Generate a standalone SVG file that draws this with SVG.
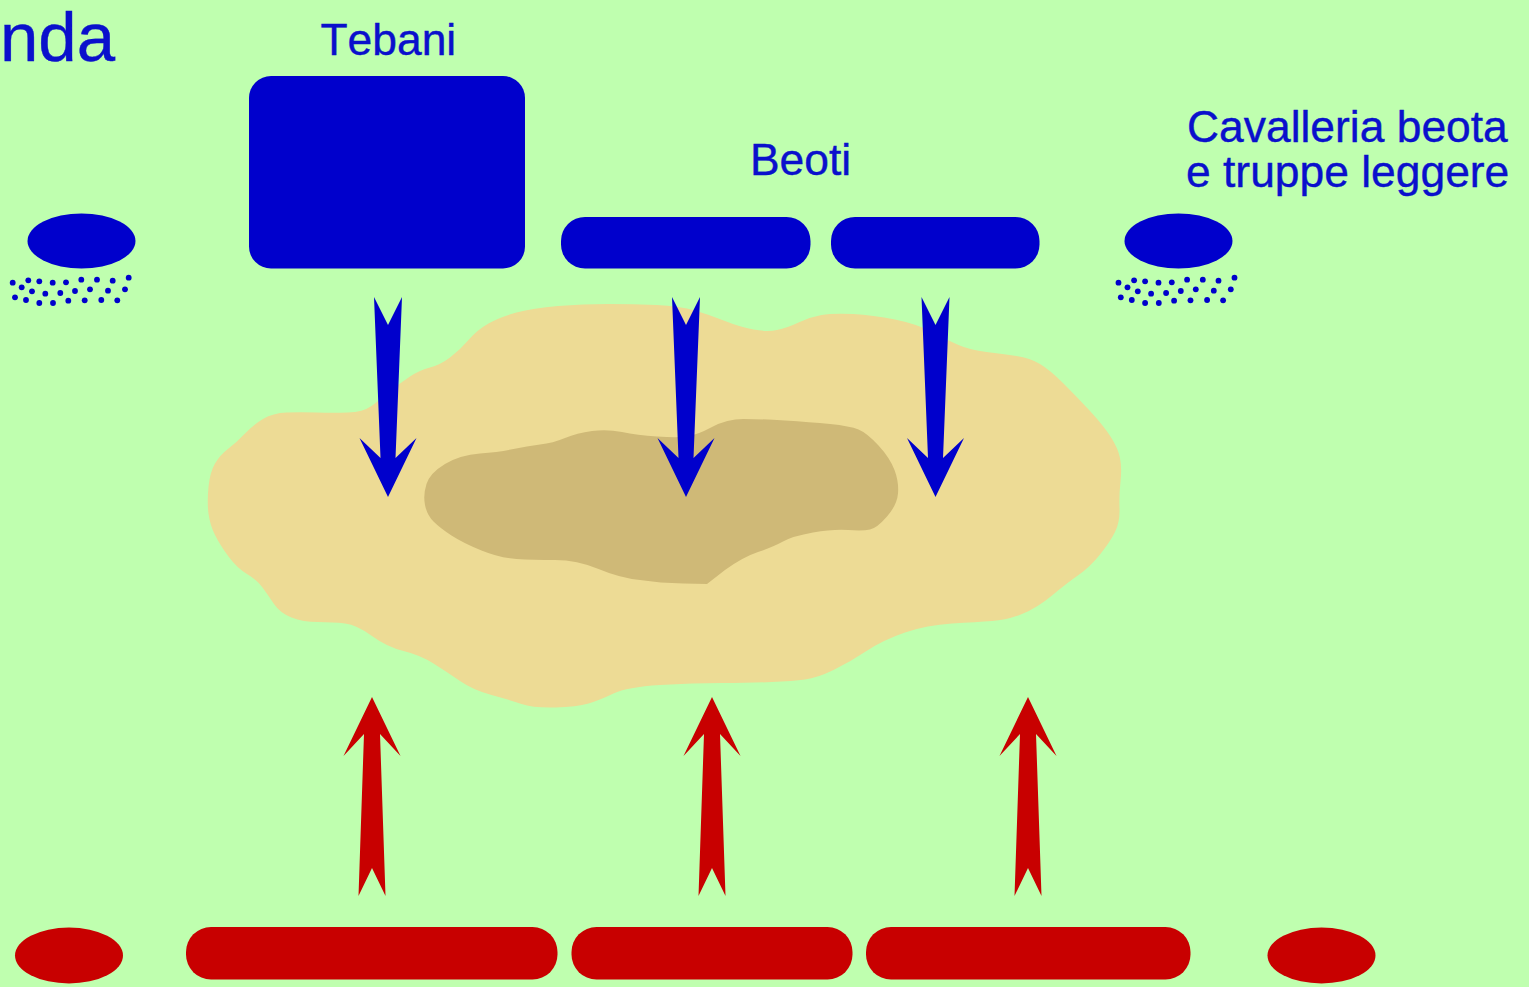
<svg xmlns="http://www.w3.org/2000/svg" xmlns:xlink="http://www.w3.org/1999/xlink" width="1529" height="987" viewBox="0 0 1529 987">
<style>
.b{fill:#0000cc}
.r{fill:#c80000}
text{font-family:"Liberation Sans",Arial,sans-serif;fill:#0a10cc;stroke:#0a10cc;stroke-width:.4px;font-size:44.400px;font-kerning:none}
#dots circle{r:2.9px}
</style>
<defs>
<path id="down" d="M-14 297L0 325L14 297L7.500 458L28.500 438L0 497L-28.500 438L-7.500 458Z"/>
<path id="up" d="M0 697L28.500 756L8 734L13.500 896L0 868L-13.500 896L-8 734L-28.500 756Z"/>
<g id="dots" class="b">
<circle cx="12.700" cy="282.700"/><circle cx="28.300" cy="280.300"/><circle cx="39.300" cy="281.300"/><circle cx="52.700" cy="282.700"/><circle cx="66" cy="282.300"/><circle cx="81.300" cy="279.700"/><circle cx="97" cy="279.700"/><circle cx="112.700" cy="280.700"/><circle cx="128.700" cy="277.700"/>
<circle cx="21.700" cy="287.300"/><circle cx="32" cy="291.300"/><circle cx="45.300" cy="293.700"/><circle cx="60.300" cy="293"/><circle cx="75" cy="291"/><circle cx="90" cy="289.300"/><circle cx="108" cy="290.700"/><circle cx="125" cy="289.300"/>
<circle cx="15" cy="297.300"/><circle cx="26" cy="300"/><circle cx="39.300" cy="303"/><circle cx="53" cy="303"/><circle cx="68.300" cy="300.700"/><circle cx="84.700" cy="300.300"/><circle cx="101.300" cy="300"/><circle cx="117.300" cy="300.300"/>
</g>
</defs>
<rect id="background" width="1529" height="987" fill="#bfffaf"/>
<g id="terrain">
<path fill="#eddb95" d="M208.500 513.500Q207 502 208.500 487Q210 472 215 463.500Q220 455 228.500 448.500Q237 442 245 433.500Q253 425 263 419Q273 413 286.500 412.500Q300 412 316.500 412.500Q333 413 348 412.500Q363 412 371.500 406Q380 400 390 391.500Q400 383 410 376.500Q420 370 430 367.500Q440 365 450 357.500Q460 350 468.500 340Q477 330 488.500 323.500Q500 317 516.500 312.500Q533 308 558 306Q583 304 608 304Q633 304 656.500 305Q680 306 695 310.500Q710 315 725 321Q740 327 753.500 329.500Q767 332 777 330Q787 328 798.500 322.500Q810 317 821.500 315Q833 313 853 314Q873 315 895 319.500Q917 324 932 332Q947 340 958.500 345Q970 350 986.500 352Q1003 354 1016.500 356Q1030 358 1040 364Q1050 370 1063.500 383.500Q1077 397 1090 411Q1103 425 1110.500 436.500Q1118 448 1120 458Q1122 468 1120.500 481.500Q1119 495 1119.500 508.500Q1120 522 1115 532Q1110 542 1100 554.500Q1090 567 1078.500 575Q1067 583 1052 595.500Q1037 608 1022 614Q1007 620 992 621Q977 622 952 623.500Q927 625 905 632.500Q883 640 866.500 651Q850 662 833.500 670Q817 678 805 679.500Q793 681 771.500 682Q750 683 721.500 683Q693 683 660 685Q627 687 613.500 693.500Q600 700 588.500 703.500Q577 707 555 707.500Q533 708 521.500 704Q510 700 491.500 695Q473 690 460 681Q447 672 433.500 663.500Q420 655 403.500 651Q387 647 372 636Q357 625 345 623.500Q333 622 318 622Q303 622 291.500 617.500Q280 613 274 604Q268 595 262.500 587.500Q257 580 247 574Q237 568 228.500 556.500Q220 545 215 535Q210 525 208.500 513.500Z"/>
<path fill="#cfb977" d="M425 505Q423 495 426.500 484Q430 473 445 464Q460 455 480 453.500Q500 452 513.500 449Q527 446 540 444.500Q553 443 565 438Q577 433 592 431Q607 429 622 432Q637 435 657 436.500Q677 438 687 436.500Q697 435 712 427Q727 419 743.500 419Q760 419 785 420.500Q810 422 830 424Q850 426 858.500 429.500Q867 433 878.500 445.500Q890 458 894.500 470Q899 482 898 493.500Q897 505 887 516.500Q877 528 870 529.500Q863 531 848 530Q833 529 813 532.500Q793 536 783 541.500Q773 547 758 552Q743 557 725 570L707 584L683.500 583.500Q660 583 640 580Q620 578 598.500 569Q577 560 555 560Q533 560 516.500 559Q500 558 481.500 550.500Q463 543 451.500 535.500Q440 528 433.500 521.500Q427 515 425 505Z"/>
</g>
<g id="label-nda"><text x="0" y="60.500" style="font-size:69px">nda</text></g>
<g id="label-tebani"><text x="320.500" y="55">Tebani</text></g>
<g id="label-beoti"><text x="750" y="175">Beoti</text></g>
<g id="label-cavalleria"><text x="1187" y="142">Cavalleria beota</text><text x="1186" y="187">e truppe leggere</text></g>
<g id="blue-cav-left"><ellipse class="b" cx="81.500" cy="241" rx="54" ry="27.500"/><use xlink:href="#dots" href="#dots"/></g>
<g id="blue-tebani"><rect class="b" x="249" y="76" width="276" height="192.500" rx="22"/></g>
<g id="blue-beoti-1"><rect class="b" x="561" y="217" width="249.500" height="51.500" rx="24"/></g>
<g id="blue-beoti-2"><rect class="b" x="831" y="217" width="208.500" height="51.500" rx="24"/></g>
<g id="blue-cav-right"><ellipse class="b" cx="1178.500" cy="241" rx="54" ry="27.500"/><use xlink:href="#dots" href="#dots" x="1105.800"/></g>
<g id="red-left"><ellipse class="r" cx="69" cy="955.500" rx="54" ry="28"/></g>
<g id="red-1"><rect class="r" x="186" y="927" width="371.500" height="52.500" rx="25"/></g>
<g id="red-2"><rect class="r" x="571.500" y="927" width="281" height="52.500" rx="25"/></g>
<g id="red-3"><rect class="r" x="866" y="927" width="324.500" height="52.500" rx="25"/></g>
<g id="red-right"><ellipse class="r" cx="1321.500" cy="955.500" rx="54" ry="28"/></g>
<g id="connectors">
<use class="b" xlink:href="#down" href="#down" x="388"/>
<use class="b" xlink:href="#down" href="#down" x="686"/>
<use class="b" xlink:href="#down" href="#down" x="935.500"/>
<use class="r" xlink:href="#up" href="#up" x="372"/>
<use class="r" xlink:href="#up" href="#up" x="712"/>
<use class="r" xlink:href="#up" href="#up" x="1028"/>
</g>
</svg>
